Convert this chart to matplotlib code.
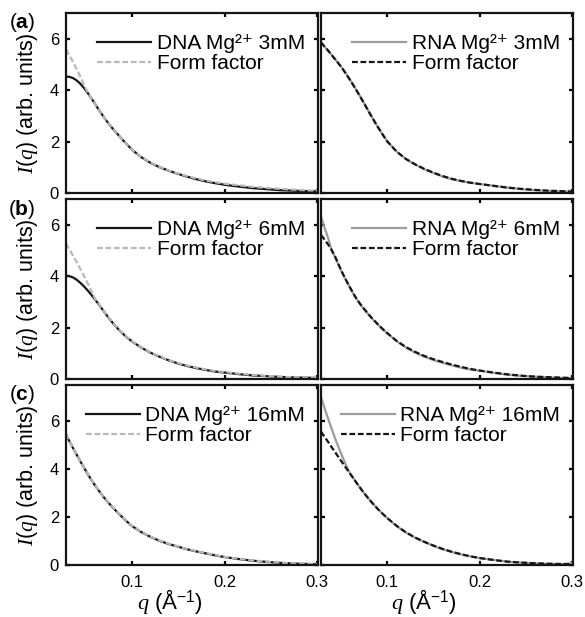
import matplotlib
matplotlib.use("Agg")
import matplotlib.pyplot as plt

plt.rcParams['font.family'] = ['Liberation Sans', 'DejaVu Sans']
plt.rcParams['mathtext.fontset'] = 'custom'
plt.rcParams['mathtext.rm'] = 'Liberation Sans'
plt.rcParams['mathtext.it'] = 'Liberation Serif:italic'
plt.rcParams['mathtext.bf'] = 'Liberation Sans:bold'

# vector q (1/Angstrom) comun a todos los paneles
q = [0.0285, 0.032, 0.036, 0.040, 0.044, 0.048, 0.052, 0.056, 0.060, 0.065,
     0.070, 0.075, 0.080, 0.085, 0.090, 0.095, 0.100, 0.110, 0.120, 0.130,
     0.140, 0.150, 0.160, 0.170, 0.180, 0.190, 0.200, 0.215, 0.230, 0.245,
     0.260, 0.275, 0.290, 0.300]

# (a) Mg 3mM
dna_3 = [4.52, 4.52, 4.47, 4.38, 4.25, 4.08, 3.89, 3.68, 3.46, 3.18,
         2.92, 2.68, 2.46, 2.26, 2.06, 1.87, 1.68, 1.39, 1.17, 1.00,
         0.86, 0.74, 0.63, 0.53, 0.45, 0.38, 0.32, 0.25, 0.19, 0.15,
         0.11, 0.09, 0.07, 0.06]
ff_dna_3 = [5.58, 5.36, 5.10, 4.82, 4.52, 4.21, 3.90, 3.68, 3.46, 3.18,
            2.92, 2.68, 2.46, 2.26, 2.06, 1.87, 1.68, 1.40, 1.18, 1.01,
            0.87, 0.75, 0.65, 0.56, 0.48, 0.42, 0.36, 0.30, 0.24, 0.20,
            0.16, 0.13, 0.10, 0.09]
rna_3 = [5.84, 5.70, 5.54, 5.37, 5.19, 5.02, 4.83, 4.62, 4.40, 4.11,
         3.81, 3.50, 3.18, 2.87, 2.57, 2.29, 2.02, 1.62, 1.33, 1.11,
         0.93, 0.78, 0.64, 0.54, 0.46, 0.40, 0.35, 0.28, 0.21, 0.15,
         0.11, 0.08, 0.06, 0.05]
ff_rna_3 = [5.86, 5.71, 5.55, 5.37, 5.19, 5.01, 4.82, 4.61, 4.39, 4.10,
            3.80, 3.49, 3.17, 2.86, 2.56, 2.28, 2.01, 1.62, 1.33, 1.12,
            0.94, 0.79, 0.66, 0.55, 0.47, 0.40, 0.35, 0.28, 0.21, 0.16,
            0.12, 0.09, 0.07, 0.06]

# (b) Mg 6mM
dna_6 = [4.01, 4.00, 3.95, 3.86, 3.74, 3.60, 3.44, 3.27, 3.09, 2.85,
         2.60, 2.36, 2.14, 1.94, 1.76, 1.60, 1.46, 1.22, 1.02, 0.86,
         0.72, 0.60, 0.50, 0.42, 0.35, 0.29, 0.25, 0.19, 0.14, 0.11,
         0.08, 0.06, 0.05, 0.04]
ff_dna_6 = [5.27, 5.05, 4.80, 4.55, 4.28, 4.00, 3.72, 3.42, 3.12, 2.86,
            2.61, 2.37, 2.15, 1.95, 1.77, 1.61, 1.47, 1.23, 1.03, 0.87,
            0.73, 0.62, 0.52, 0.44, 0.37, 0.31, 0.27, 0.21, 0.16, 0.12,
            0.09, 0.07, 0.06, 0.05]
rna_6 = [6.32, 5.92, 5.50, 5.00, 4.72, 4.40, 4.09, 3.81, 3.54, 3.22,
         2.95, 2.72, 2.50, 2.30, 2.12, 1.94, 1.78, 1.48, 1.23, 1.03,
         0.87, 0.74, 0.63, 0.53, 0.44, 0.37, 0.32, 0.24, 0.17, 0.12,
         0.09, 0.06, 0.04, 0.03]
ff_rna_6 = [5.60, 5.44, 5.24, 5.02, 4.74, 4.41, 4.10, 3.82, 3.55, 3.23,
            2.96, 2.73, 2.51, 2.31, 2.13, 1.95, 1.79, 1.49, 1.25, 1.06,
            0.90, 0.77, 0.66, 0.56, 0.47, 0.39, 0.33, 0.25, 0.18, 0.13,
            0.09, 0.07, 0.05, 0.04]

# (c) Mg 16mM
dna_16 = [5.44, 5.17, 4.88, 4.60, 4.32, 4.05, 3.79, 3.54, 3.31, 3.04,
          2.79, 2.57, 2.36, 2.16, 1.97, 1.79, 1.62, 1.37, 1.17, 1.00,
          0.87, 0.76, 0.65, 0.56, 0.48, 0.40, 0.33, 0.25, 0.18, 0.13,
          0.09, 0.06, 0.04, 0.03]
ff_dna_16 = [5.46, 5.18, 4.89, 4.60, 4.32, 4.05, 3.79, 3.54, 3.31, 3.04,
             2.80, 2.58, 2.37, 2.17, 1.98, 1.80, 1.63, 1.38, 1.18, 1.01,
             0.88, 0.77, 0.66, 0.57, 0.49, 0.41, 0.34, 0.26, 0.19, 0.14,
             0.10, 0.07, 0.05, 0.04]
rna_16 = [7.00, 6.58, 6.12, 5.68, 5.25, 4.85, 4.48, 4.12, 3.82, 3.53,
          3.26, 3.00, 2.76, 2.54, 2.33, 2.14, 1.96, 1.63, 1.36, 1.14,
          0.96, 0.80, 0.66, 0.54, 0.44, 0.36, 0.29, 0.21, 0.14, 0.10,
          0.07, 0.05, 0.04, 0.08]
ff_rna_16 = [5.56, 5.36, 5.14, 4.91, 4.69, 4.46, 4.24, 4.02, 3.80, 3.53,
             3.26, 3.00, 2.76, 2.54, 2.33, 2.14, 1.96, 1.64, 1.37, 1.15,
             0.97, 0.81, 0.67, 0.55, 0.45, 0.36, 0.29, 0.21, 0.14, 0.10,
             0.07, 0.05, 0.04, 0.03]

filas = [
    ("a", "3mM", dna_3, ff_dna_3, rna_3, ff_rna_3, 7.0),
    ("b", "6mM", dna_6, ff_dna_6, rna_6, ff_rna_6, 7.0),
    ("c", "16mM", dna_16, ff_dna_16, rna_16, ff_rna_16, 7.5),
]

W, H = 585, 617
fig = plt.figure(figsize=(W / 100, H / 100), dpi=100)

negro = "#151515"
gris = "#9c9c9c"
gris_claro = "#b8b8b8"
guiones = (0, (2.6, 1.2))

tops = [13, 199, 385]
alto = 180
x_izq, x_der, ancho = 66, 321, 252

for i, (letra, conc, dna, ffd, rna, ffr, ymax) in enumerate(filas):
    top = tops[i]
    bottom = (H - top - alto) / H
    ax1 = fig.add_axes([x_izq / W, bottom, ancho / W, alto / H])
    ax2 = fig.add_axes([x_der / W, bottom, ancho / W, alto / H])

    ax1.plot(q, dna, color=negro, lw=1.6, label="DNA Mg²⁺ " + conc)
    ax1.plot(q, ffd, color=gris_claro, lw=1.6, linestyle=guiones, label="Form factor")
    ax2.plot(q, rna, color=gris, lw=1.6, label="RNA Mg²⁺ " + conc)
    ax2.plot(q, ffr, color=negro, lw=1.6, linestyle=guiones, label="Form factor")

    for ax in (ax1, ax2):
        ax.set_xlim(0.0285, 0.301)
        ax.set_ylim(0, ymax)
        ax.set_xticks([0.1, 0.2, 0.3])
        ax.set_yticks([0, 2, 4, 6])
        ax.set_xticklabels(["0.1", "0.2", "0.3"])
        ax.set_yticklabels(["0", "2", "4", "6"])
        ax.tick_params(direction="in", length=3, width=1.6, top=True, right=True,
                       labelsize=12, pad=5)
        ax.tick_params(axis="x", pad=7)
        for s in ax.spines.values():
            s.set_linewidth(1.6)
            s.set_color(negro)
        ax.legend(loc="upper right", bbox_to_anchor=(0.985, 0.935), frameon=False,
                  fontsize=15, handlelength=2.6, handletextpad=0.25,
                  labelspacing=0.05, borderaxespad=0.1, borderpad=0.35)
        if i < 2:
            ax.set_xticklabels([])
    ax2.set_yticklabels([])

    fig.text(22 / W, 1 - (top + 10) / H, "($\\mathbf{%s}$)" % letra,
             fontsize=15, ha="center", va="center")
    fig.text(28 / W, 1 - (top + alto / 2) / H, "$I(q)$ (arb. units)",
             fontsize=15.5, rotation=90, ha="center", va="center")

fig.text(170 / W, 1 - 601 / H, r"$q$ (Å$^{-1}$)", fontsize=16, ha="center", va="center")
fig.text(424 / W, 1 - 601 / H, r"$q$ (Å$^{-1}$)", fontsize=16, ha="center", va="center")

fig.savefig("out.png", dpi=100)
